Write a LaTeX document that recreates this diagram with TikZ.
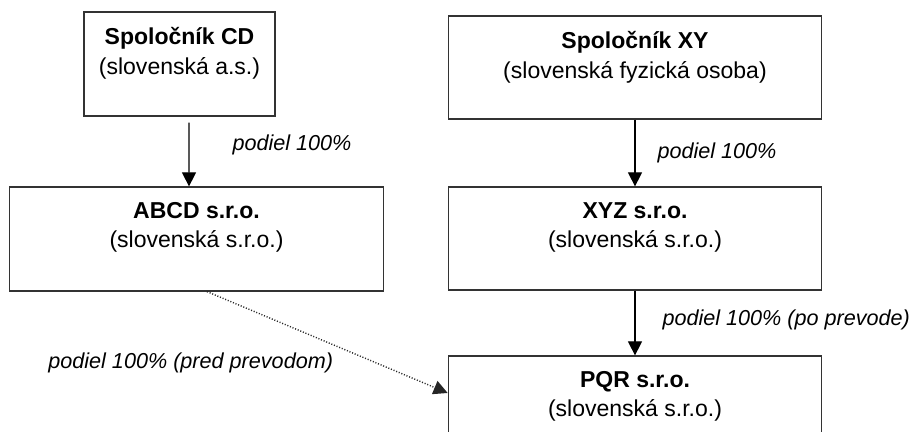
\documentclass[tikz,border=0pt]{standalone}
\usepackage{fontspec}
\setmainfont{Liberation Sans}
\usetikzlibrary{arrows.meta,positioning}

\tikzset{
	firma/.style = {draw = black!80, line width = 0.7pt, minimum width = 7.47cm, minimum height = 2.07cm, inner sep = 0pt},
	firmatext/.style = {align = center, inner sep = 0pt, font = \fontsize{13.1}{16.6}\selectfont},
	podiel/.style = {anchor = west, inner sep = 0pt, font = \fontsize{12.3}{14}\selectfont\itshape},
	sipka/.style = {-{Triangle[width = 8pt, length = 8pt]}, line width = 0.6pt},
}

\begin{document}
\begin{tikzpicture}[x = 0.02cm, y = -0.02cm]
	\clip (0,0) rectangle (917,432);
	\node[firma, minimum width = 3.82cm, minimum height = 2.08cm](cd) at (179.5,64){};
	\node[firma, minimum height = 2.06cm](xy) at (635,67.5){};
	\node[firma, minimum height = 2.08cm](abcd) at (196.5,239){};
	\node[firma, minimum height = 2.06cm](xyz) at (635,238.5){};
	\node[firma, minimum height = 2.08cm](pqr) at (635,408){};
	\node[firmatext, below = 0.32cm of cd.north](cdtext){\textbf{Spoločník CD}\\(slovenská a.s.)};
	\node[firmatext, below = 0.32cm of xy.north](xytext){\textbf{Spoločník XY}\\(slovenská fyzická osoba)};
	\node[firmatext, below = 0.32cm of abcd.north](abcdtext){\textbf{ABCD s.r.o.}\\(slovenská s.r.o.)};
	\node[firmatext, below = 0.32cm of xyz.north](xyztext){\textbf{XYZ s.r.o.}\\(slovenská s.r.o.)};
	\node[firmatext, below = 0.32cm of pqr.north](pqrtext){\textbf{PQR s.r.o.}\\(slovenská s.r.o.)};
	\draw[sipka, shorten < = 0.12cm] ([xshift = 0.19cm]cd.south) -- node[podiel, pos = 0.4, xshift = 0.86cm](pcd){podiel 100\%}([xshift = -0.15cm]abcd.north);
	\draw[sipka] (xy.south) -- node[podiel, pos = 0.5, xshift = 0.44cm](pxy){podiel 100\%}(xyz.north);
	\draw[sipka] (xyz.south) -- node[podiel, pos = 0.45, xshift = 0.54cm](pxyz){podiel 100\% (po prevode)}(pqr.north);
	\draw[sipka, densely dotted, line width = 0.8pt, black!85] ([xshift = 0.21cm]abcd.south) -- ([yshift = 0.3cm]pqr.west);
	\node[podiel](pabcd) at (48,363){podiel 100\% (pred prevodom)};
\end{tikzpicture}
\end{document}
